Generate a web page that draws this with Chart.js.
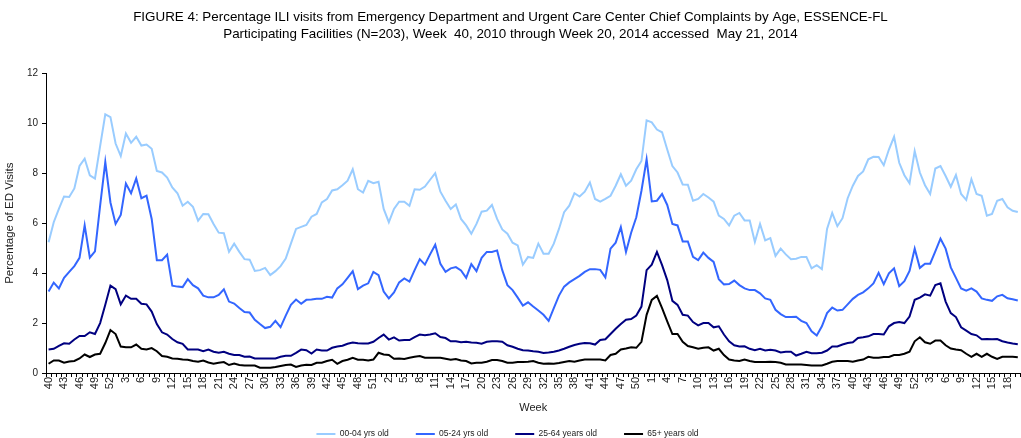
<!DOCTYPE html>
<html>
<head>
<meta charset="utf-8">
<script src="https://cdn.jsdelivr.net/npm/chart.js@4.4.1/dist/chart.umd.min.js"></script>
<style>
  html, body { margin: 0; padding: 0; background: #fff; overflow: hidden; }
  #frame { width: 1021px; height: 438px; overflow: hidden; position: relative; }
  /* the original figure is wider than the picture; its right edge is cut off */
  #box { width: 1031px; height: 438px; position: absolute; left: 0; top: 0; }
</style>
</head>
<body>
<div id="frame"><div id="box"><canvas id="iliChart"></canvas></div></div>
<script>
// MMWR weeks, week 40 2010 through week 20 2014
const weeks = [
  40,41,42,43,44,45,46,47,48,49,50,51,52,
  1,2,3,4,5,6,7,8,9,10,11,12,13,14,15,16,17,18,19,20,21,22,23,24,25,26,
  27,28,29,30,31,32,33,34,35,36,37,38,39,40,41,42,43,44,45,46,47,48,49,50,51,52,
  1,2,3,4,5,6,7,8,9,10,11,12,13,14,15,16,17,18,19,20,21,22,23,24,25,26,
  27,28,29,30,31,32,33,34,35,36,37,38,39,40,41,42,43,44,45,46,47,48,49,50,51,52,
  1,2,3,4,5,6,7,8,9,10,11,12,13,14,15,16,17,18,19,20,21,22,23,24,25,26,
  27,28,29,30,31,32,33,34,35,36,37,38,39,40,41,42,43,44,45,46,47,48,49,50,51,52,
  1,2,3,4,5,6,7,8,9,10,11,12,13,14,15,16,17,18,19,20
];

const age0004 = [
  5.24,6.04,6.57,7.07,7.05,7.39,8.29,8.58,7.92,7.79,
  9.09,10.36,10.25,9.19,8.69,9.59,9.22,9.46,9.11,9.15,
  8.98,8.09,8.03,7.83,7.43,7.2,6.7,6.86,6.66,6.1,
  6.37,6.36,5.97,5.62,5.6,4.85,5.18,4.85,4.56,4.54,
  4.09,4.12,4.21,3.92,4.08,4.28,4.58,5.18,5.77,5.85,
  5.93,6.26,6.37,6.83,6.97,7.31,7.36,7.52,7.7,8.16,
  7.36,7.23,7.7,7.6,7.66,6.57,6.04,6.57,6.86,6.86,
  6.7,7.36,7.34,7.47,7.74,8.0,7.26,6.9,6.57,6.75,
  6.17,5.91,5.58,5.97,6.46,6.5,6.73,6.17,5.75,5.58,
  5.22,5.11,4.34,4.65,4.61,5.18,4.78,4.78,5.18,5.77,
  6.44,6.7,7.2,7.07,7.26,7.63,6.97,6.86,6.97,7.1,
  7.5,7.96,7.5,7.7,8.16,8.49,10.12,10.04,9.75,9.64,
  8.95,8.29,8.03,7.55,7.54,6.9,6.97,7.17,7.03,6.86,
  6.3,6.17,5.91,6.3,6.41,6.11,6.11,5.25,5.97,5.31,
  5.4,4.69,4.98,4.75,4.56,4.58,4.65,4.65,4.19,4.32,
  4.16,5.77,6.41,5.88,6.2,7.0,7.5,7.89,8.07,8.56,
  8.66,8.65,8.32,8.95,9.46,8.42,7.92,7.6,8.89,8.03,
  7.52,7.17,8.19,8.29,7.89,7.46,7.93,7.17,6.93,7.76,
  7.17,7.1,6.3,6.37,6.9,6.97,6.64,6.5,6.45
];

const age0524 = [
  3.26,3.62,3.39,3.81,4.05,4.28,4.61,5.91,4.62,4.87,
  6.7,8.45,6.83,5.97,6.33,7.59,7.2,7.79,7.0,7.1,
  6.17,4.52,4.52,4.74,3.5,3.46,3.44,3.76,3.52,3.39,
  3.1,3.03,3.03,3.13,3.35,2.86,2.78,2.6,2.44,2.42,
  2.13,1.96,1.8,1.85,2.09,1.84,2.3,2.73,2.94,2.77,
  2.93,2.94,2.97,2.97,3.05,3.02,3.39,3.55,3.81,4.08,
  3.36,3.5,3.59,4.05,3.92,3.26,2.99,3.23,3.63,3.79,
  3.66,4.12,4.56,4.34,4.75,5.14,4.37,4.05,4.19,4.24,
  4.11,3.81,4.36,4.08,4.61,4.85,4.85,4.91,4.12,3.52,
  3.32,3.02,2.7,2.83,2.66,2.5,2.33,2.09,2.6,3.1,
  3.46,3.63,3.76,3.89,4.05,4.16,4.16,4.13,3.83,4.98,
  5.22,5.84,4.85,5.62,6.24,7.3,8.56,6.87,6.9,7.17,
  6.73,5.97,5.91,5.27,5.27,4.65,4.52,4.82,4.61,4.45,
  3.76,3.55,3.56,3.7,3.52,3.39,3.32,3.32,3.19,2.99,
  2.93,2.53,2.36,2.24,2.24,2.25,2.09,2.0,1.67,1.5,
  1.87,2.4,2.62,2.5,2.53,2.75,2.97,3.13,3.23,3.39,
  3.59,4.01,3.56,3.99,4.19,3.48,3.68,4.09,4.98,4.21,
  4.38,4.38,4.87,5.38,4.98,4.23,3.81,3.39,3.3,3.39,
  3.26,2.99,2.93,2.89,3.07,3.13,2.99,2.95,2.9
];

const age2564 = [
  0.94,0.97,1.09,1.19,1.17,1.34,1.48,1.48,1.63,1.56,
  2.0,2.73,3.5,3.36,2.75,3.1,2.97,2.97,2.77,2.75,
  2.46,1.96,1.63,1.54,1.36,1.23,1.17,0.94,0.94,0.94,
  0.87,0.94,0.85,0.81,0.85,0.77,0.72,0.72,0.65,0.66,
  0.58,0.58,0.58,0.58,0.58,0.65,0.69,0.69,0.81,0.94,
  0.91,0.78,0.94,0.9,0.9,1.01,1.06,1.09,1.17,1.22,
  1.19,1.18,1.18,1.25,1.4,1.54,1.34,1.43,1.3,1.32,
  1.32,1.44,1.54,1.51,1.54,1.59,1.44,1.4,1.27,1.27,
  1.23,1.25,1.22,1.21,1.17,1.25,1.27,1.27,1.25,1.11,
  1.05,0.97,0.91,0.9,0.87,0.85,0.8,0.82,0.85,0.9,
  0.97,1.05,1.12,1.17,1.2,1.19,1.14,1.32,1.35,1.56,
  1.77,1.96,2.13,2.16,2.3,2.66,4.12,4.34,4.85,4.32,
  3.72,2.89,2.73,2.33,2.3,2.04,1.91,2.0,2.0,1.83,
  1.87,1.54,1.27,1.11,1.06,1.07,0.97,0.91,0.97,0.9,
  0.93,0.9,0.82,0.85,0.85,0.7,0.77,0.85,0.79,0.79,
  0.81,0.9,1.06,1.06,1.14,1.2,1.23,1.4,1.43,1.47,
  1.56,1.56,1.54,1.87,2.0,2.04,2.0,2.26,2.93,3.02,
  3.15,3.1,3.52,3.59,2.86,2.4,2.24,1.83,1.7,1.56,
  1.51,1.35,1.36,1.35,1.36,1.27,1.22,1.18,1.15
];

const age65plus = [
  0.37,0.5,0.5,0.41,0.46,0.48,0.58,0.74,0.64,0.74,
  0.77,1.2,1.72,1.56,1.06,1.03,1.03,1.14,0.97,0.94,
  1.0,0.87,0.68,0.65,0.58,0.57,0.54,0.53,0.48,0.45,
  0.5,0.42,0.37,0.41,0.44,0.32,0.38,0.32,0.3,0.3,
  0.3,0.21,0.21,0.21,0.24,0.28,0.32,0.34,0.24,0.3,
  0.33,0.32,0.41,0.41,0.48,0.53,0.37,0.48,0.53,0.61,
  0.53,0.53,0.5,0.54,0.81,0.74,0.72,0.57,0.58,0.56,
  0.61,0.65,0.68,0.61,0.61,0.61,0.61,0.57,0.53,0.56,
  0.5,0.48,0.38,0.41,0.41,0.45,0.52,0.52,0.48,0.41,
  0.41,0.44,0.44,0.45,0.48,0.41,0.37,0.38,0.37,0.4,
  0.44,0.48,0.45,0.5,0.54,0.54,0.54,0.54,0.5,0.72,
  0.77,0.94,0.98,1.03,1.01,1.25,2.33,2.93,3.09,2.6,
  2.07,1.56,1.56,1.25,1.08,1.03,0.97,1.01,1.03,0.9,
  0.97,0.72,0.54,0.5,0.48,0.54,0.48,0.44,0.44,0.44,
  0.45,0.44,0.41,0.34,0.34,0.34,0.34,0.32,0.3,0.3,
  0.3,0.37,0.45,0.48,0.48,0.48,0.45,0.5,0.54,0.65,
  0.61,0.61,0.64,0.64,0.72,0.72,0.77,0.85,1.27,1.43,
  1.23,1.17,1.3,1.3,1.11,0.98,0.94,0.91,0.77,0.65,
  0.77,0.65,0.77,0.65,0.56,0.65,0.65,0.65,0.63
];

const seriesNames = ["00-04 yrs old", "05-24 yrs old", "25-64 years old", "65+ years old"];
const seriesValues = [age0004, age0524, age2564, age65plus];
const seriesColors = ["#99CCFF", "#3366FF", "#000080", "#000000"];

const titleLines = [
  "FIGURE 4: Percentage ILI visits from Emergency Department and Urgent Care Center Chief Complaints by Age, ESSENCE-FL",
  "Participating Facilities (N=203), Week  40, 2010 through Week 20, 2014 accessed  May 21, 2014"
];

const legendPad = 27;
const legendFont = 8.5;

// legend and title sit a little left of the (wider, cropped) canvas centre,
// and the legend row sits lower than its layout box
const nudgeBlocks = {
  id: "nudgeBlocks",
  afterLayout(chart) {
    const lg = chart.legend;
    lg.top = 434 - legendPad - legendFont / 2;
    lg.bottom = chart.height;
    lg.left -= 8;
    lg.right -= 8;
    const tb = chart.titleBlock;
    tb.left -= 5;
    tb.right -= 5;
  }
};

Chart.defaults.font.family = '"Liberation Sans", Arial, sans-serif';
Chart.defaults.color = "#222";

const ctx = document.getElementById("iliChart").getContext("2d");

new Chart(ctx, {
    type: "line",
    data: {
        labels: weeks,
        datasets: seriesNames.map((name, k) => ({
            label: name,
            data: seriesValues[k],
            borderColor: seriesColors[k],
            backgroundColor: seriesColors[k],
            borderWidth: 2,
            pointRadius: 0,
            tension: 0,
            fill: false
        }))
    },
    options: {
        responsive: true,
        maintainAspectRatio: false,
        animation: false,
        layout: { padding: 0 },
        plugins: {
            title: {
                display: true,
                text: titleLines,
                color: "#000",
                font: { size: 13.4, weight: "normal", lineHeight: 1.32 },
                padding: { top: 8, bottom: 30 }
            },
            legend: {
                position: "bottom",
                maxHeight: 20,
                labels: {
                    boxWidth: 19,
                    boxHeight: 2,
                    padding: legendPad,
                    color: "#222",
                    font: { size: legendFont },
                    generateLabels: (chart) =>
                        Chart.defaults.plugins.legend.labels.generateLabels(chart)
                            .map(item => ({ ...item, lineWidth: 0 }))
                }
            },
            tooltip: { enabled: false }
        },
        scales: {
            x: {
                type: "category",
                offset: true,
                afterFit: (s) => { s.height = 45; },
                grid: {
                    offset: true,
                    drawOnChartArea: false,
                    drawTicks: true,
                    tickLength: 4,
                    color: "#000"
                },
                border: { color: "#000", width: 1 },
                ticks: {
                    autoSkip: false,
                    minRotation: 90,
                    maxRotation: 90,
                    padding: 0,
                    font: { size: 11 },
                    callback: (val, i) => (i % 3 === 0 ? String(weeks[i]) : "")
                },
                title: {
                    display: true,
                    text: "Week",
                    font: { size: 11 },
                    padding: { top: 0, bottom: 3.4 }
                }
            },
            y: {
                min: 0,
                max: 12,
                afterFit: (s) => { s.width = 46; },
                grid: {
                    drawOnChartArea: false,
                    drawTicks: true,
                    tickLength: 4,
                    color: "#000"
                },
                border: { color: "#000", width: 1 },
                ticks: {
                    stepSize: 2,
                    padding: 4,
                    font: { size: 10 }
                },
                title: {
                    display: true,
                    text: "Percentage of ED Visits",
                    font: { size: 11.5 },
                    padding: { top: 2.5, bottom: 0 }
                }
            }
        }
    },
    plugins: [nudgeBlocks]
});
</script>
</body>
</html>
